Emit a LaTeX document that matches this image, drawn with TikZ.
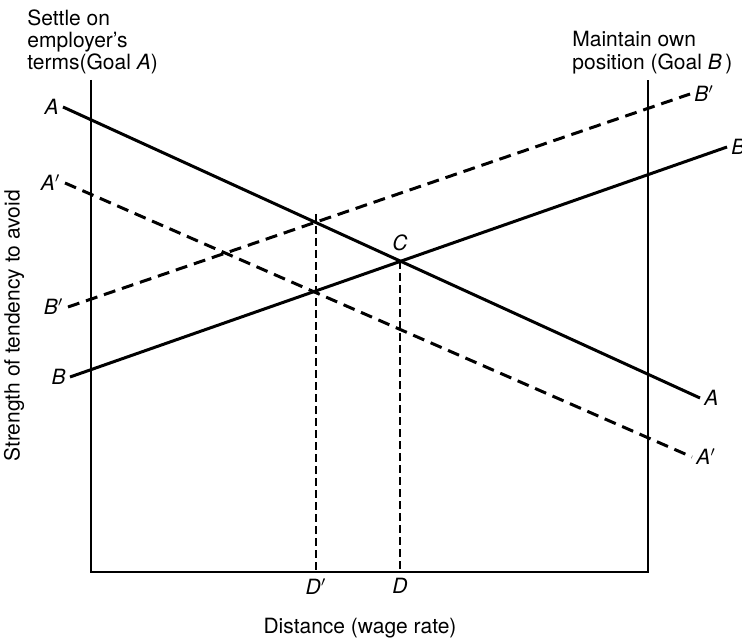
\documentclass[tikz,border=0pt]{standalone}
\usepackage{fontspec}
\setmainfont{TeX Gyre Heros}
\usetikzlibrary{positioning}

\begin{document}
\begin{tikzpicture}[
    x=0.5pt, y=-0.5pt,
    curve/.style={line width=1.5pt},
    shifted/.style={line width=1.5pt, dash pattern=on 6pt off 3.5pt},
    axis/.style={line width=0.8pt},
    drop/.style={line width=0.6pt, dash pattern=on 4pt off 2pt},
    lbl/.style={font=\fontsize{10.5}{12}\selectfont\itshape, inner sep=1pt},
    txt/.style={font=\fontsize{10.5}{11.2}\selectfont, align=left, inner sep=0pt}
]
\useasboundingbox (0,0) rectangle (742,641);

% frame of the two goals
\coordinate (tl) at (91,80);
\coordinate (bl) at (91,572);
\coordinate (br) at (648,572);
\coordinate (tr) at (648,80);

% line ends
\coordinate (aL)  at (63,107);
\coordinate (aR)  at (700,398);
\coordinate (apL) at (65,183);
\coordinate (apR) at (692,457);
\coordinate (bpL) at (68,307);
\coordinate (bpR) at (690,94);
\coordinate (bL)  at (70,377);
\coordinate (bR)  at (727,147);

% crossings
\coordinate (cross) at (400,261);
\coordinate (crossp) at (316,222);
\coordinate (dfoot) at (400,572);
\coordinate (dpfoot) at (316,572);

% texts
\node[txt, anchor=north west] (goalA) at (27,9) {Settle on\\employer's\\terms(Goal \textit{A})};
\node[txt, anchor=north west] (goalB) at (572,31) {Maintain own\\position (Goal \textit{B}\,)};
\node[txt, rotate=90] (ylab) at (14,326) {Strength of tendency to avoid};
\node[txt] (xlab) at (360,628) {Distance (wage rate)};

\node[lbl, left=1pt of aL]   (labAL)  {A};
\node[lbl, right=1pt of aR]  (labAR)  {A};
\node[lbl, left=1pt of apL]  (labApL) {A$'$};
\node[lbl, right=1pt of apR] (labApR) {A$'$};
\node[lbl, left=1pt of bpL]  (labBpL) {B$'$};
\node[lbl, right=1pt of bpR] (labBpR) {B$'$};
\node[lbl, left=1pt of bL]   (labBL)  {B};
\node[lbl, right=1pt of bR]  (labBR)  {B};
\node[lbl, above=4pt of cross] (labC) {C};
\node[lbl, below=2pt of dpfoot] (labDp) {D$'$};
\node[lbl, below=2pt of dfoot]  (labD)  {D};

% axes
\draw[axis] (tl) -- (bl) -- (br) -- (tr);

% tendencies
\draw[curve]   (aL)  -- (aR);
\draw[curve]   (bL)  -- (bR);
\draw[shifted] (apL) -- (apR);
\draw[shifted] (bpL) -- (bpR);

% drop lines
\draw[drop] (crossp) ++(0,-8) -- (dpfoot);
\draw[drop] (cross) -- (dfoot);

\end{tikzpicture}
\end{document}
